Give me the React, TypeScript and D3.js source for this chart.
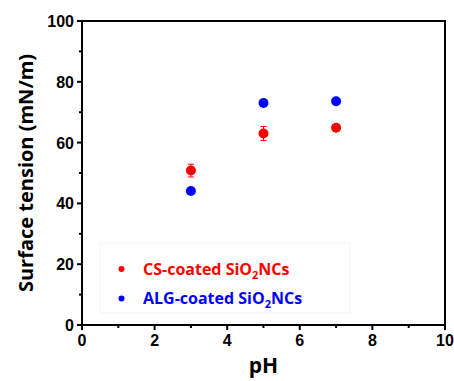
import React from "react";
import * as d3 from "d3";

const phValues = [3, 5, 7];
const csValues = [50.8, 63.0, 64.9];
const csErrors = [2.1, 2.3, 0.8];
const algValues = [44.1, 73.0, 73.6];
const algErrors = [0.5, 0.5, 0.5];
const xTicks = [0, 2, 4, 6, 8, 10];
const yTicks = [0, 20, 40, 60, 80, 100];
const xMinor = [1, 3, 5, 7, 9];
const yMinor = [10, 30, 50, 70, 90];

const W = 454, H = 381;
const left = 82, right = 445, top = 21, bottom = 325;
const font = "Arial, 'Liberation Sans', sans-serif";
const labelFont = "'Open Sans', 'Noto Sans', sans-serif";

export default function App() {
  const x = d3.scaleLinear().domain([0, 10]).range([left, right]);
  const y = d3.scaleLinear().domain([0, 100]).range([bottom, top]);
  const series = [
    { name: "CS", values: csValues, errors: csErrors, color: "#ff0000" },
    { name: "ALG", values: algValues, errors: algErrors, color: "#0000ff" },
  ];
  return (
    <svg width={W} height={H} style={{ position: "absolute", left: 0, top: 0, background: "#fff" }}>
      <rect x={0} y={0} width={W} height={H} fill="#fff" />
      {/* legend box (faint) */}
      <rect x={100} y={243} width={250} height={70} fill="#fefefe" stroke="#f5f5f5" strokeWidth={1} />
      {/* frame */}
      <rect x={left} y={top} width={right - left} height={bottom - top} fill="none" stroke="#000" strokeWidth={2} />
      {/* x ticks */}
      {xTicks.map((t) => (
        <g key={"xt" + t}>
          <line x1={x(t)} x2={x(t)} y1={bottom} y2={bottom + 5} stroke="#000" strokeWidth={2} />
          <text x={x(t)} y={bottom + 21} textAnchor="middle" fontFamily={font} fontWeight="bold" fontSize={16}>{t}</text>
        </g>
      ))}
      {xMinor.map((t) => (
        <line key={"xm" + t} x1={x(t)} x2={x(t)} y1={bottom} y2={bottom + 3} stroke="#000" strokeWidth={2} />
      ))}
      {yTicks.map((t) => (
        <g key={"yt" + t}>
          <line x1={left - 5} x2={left} y1={y(t)} y2={y(t)} stroke="#000" strokeWidth={2} />
          <text x={left - 8} y={y(t) + 6} textAnchor="end" fontFamily={font} fontWeight="bold" fontSize={16}>{t}</text>
        </g>
      ))}
      {yMinor.map((t) => (
        <line key={"ym" + t} x1={left - 3} x2={left} y1={y(t)} y2={y(t)} stroke="#000" strokeWidth={2} />
      ))}
      {/* axis titles */}
      <text x={(left + right) / 2} y={373} textAnchor="middle" fontFamily={labelFont} fontWeight="bold" fontSize={21}>pH</text>
      <text transform={`translate(33, ${(top + bottom) / 2}) rotate(-90)`} textAnchor="middle" fontFamily={labelFont} fontWeight="bold" fontSize={20}>Surface tension (mN/m)</text>
      {/* data */}
      {series.map((s) => (
        <g key={s.name}>
          {phValues.map((p, i) => {
            const cx = x(p), cy = y(s.values[i]);
            const y1 = y(s.values[i] + s.errors[i]), y2 = y(s.values[i] - s.errors[i]);
            return (
              <g key={i}>
                <line x1={cx} x2={cx} y1={y1} y2={y2} stroke={s.color} strokeWidth={1} />
                <line x1={cx - 3} x2={cx + 3} y1={y1} y2={y1} stroke={s.color} strokeWidth={1} />
                <line x1={cx - 3} x2={cx + 3} y1={y2} y2={y2} stroke={s.color} strokeWidth={1} />
                <circle cx={cx} cy={cy} r={5} fill={s.color} />
              </g>
            );
          })}
        </g>
      ))}
      {/* legend */}
      <circle cx={121.5} cy={269} r={3} fill="#ff0000" />
      <text x={143} y={275} fontFamily={labelFont} fontWeight="bold" fontSize={16} fill="#ff0000">
        CS-coated SiO<tspan fontSize={11} dy={4}>2</tspan><tspan dy={-4}>NCs</tspan>
      </text>
      <circle cx={121.5} cy={298.5} r={3} fill="#0000ff" />
      <text x={143} y={304} fontFamily={labelFont} fontWeight="bold" fontSize={16} fill="#0000ff">
        ALG-coated SiO<tspan fontSize={11} dy={4}>2</tspan><tspan dy={-4}>NCs</tspan>
      </text>
    </svg>
  );
}
